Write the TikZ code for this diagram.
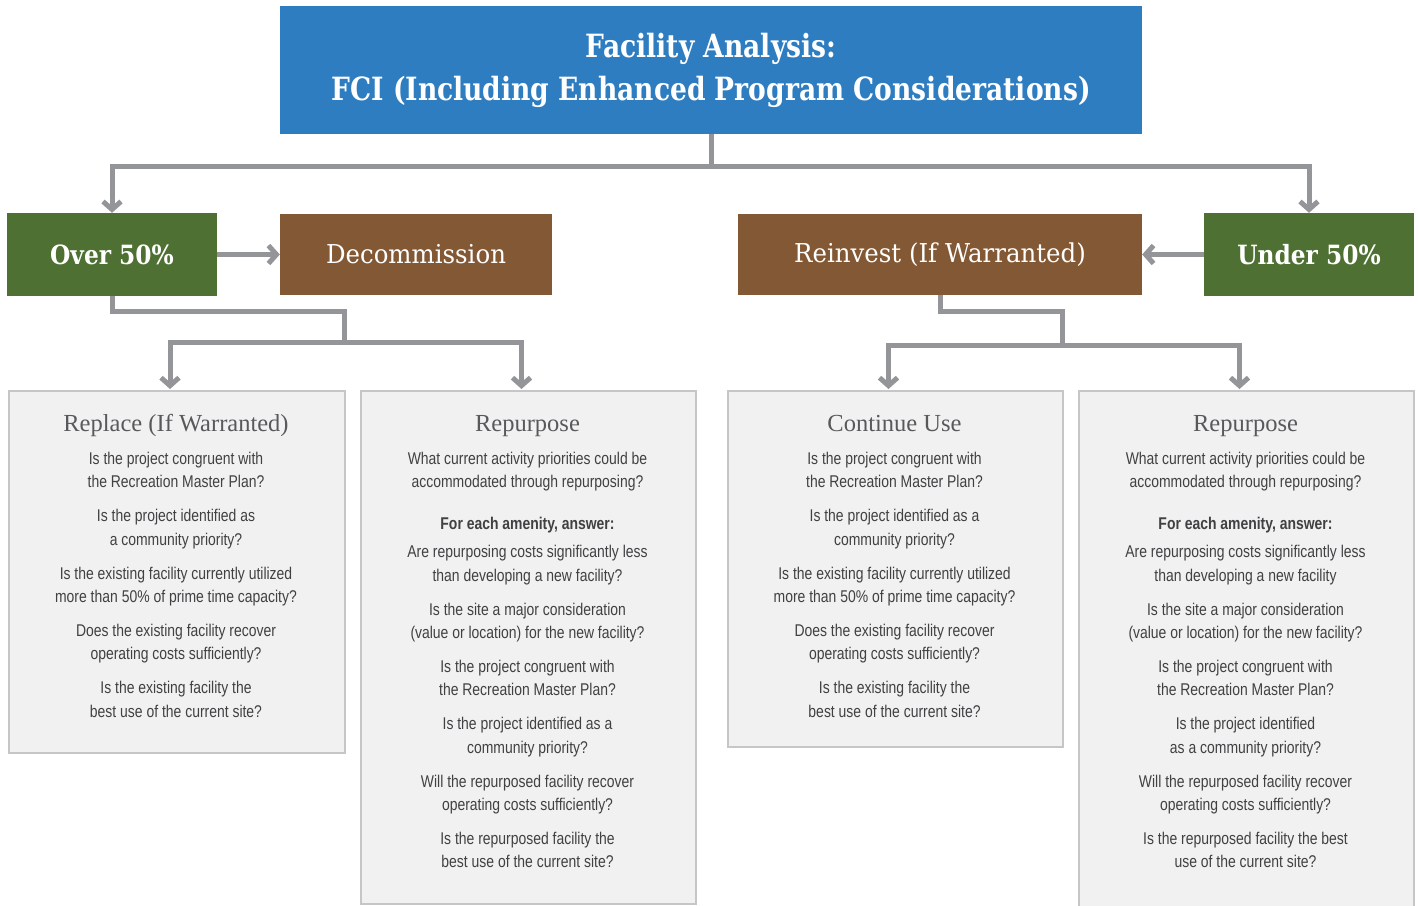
\documentclass[tikz,border=0pt]{standalone}
\usepackage{fontspec}
\setmainfont{Liberation Sans}
\newfontfamily\ttlfont{DejaVu Serif}[FakeStretch=0.83]
\newfontfamily\labfont{DejaVu Serif}[FakeStretch=0.88]
\newfontfamily\brfont{DejaVu Serif}[FakeStretch=0.94]
\newfontfamily\hdfont{Liberation Serif}
\newfontfamily\bodyfont{Liberation Sans}[FakeStretch=0.82]
\usetikzlibrary{arrows.meta,calc}
\definecolor{cblue}{HTML}{2F7DC1}
\definecolor{cgreen}{HTML}{4E7032}
\definecolor{cbrown}{HTML}{835834}
\definecolor{cline}{HTML}{939598}
\definecolor{cfill}{HTML}{F1F1F1}
\definecolor{cborder}{HTML}{C6C6C6}
\definecolor{ctext}{HTML}{414042}
\definecolor{chead}{HTML}{58595B}
\tikzset{
  titlebox/.style={fill=cblue, inner sep=0, minimum width=862, minimum height=128, text=white, align=center,
    font=\ttlfont\bfseries\fontsize{32}{43}\selectfont},
  greenbox/.style={fill=cgreen, inner sep=0, minimum width=210, minimum height=83, text=white,
    font=\labfont\bfseries\fontsize{26.5}{30}\selectfont},
  brownbox/.style={fill=cbrown, inner sep=0, minimum height=81, text=white,
    font=\brfont\fontsize{26}{30}\selectfont},
  qbox/.style={fill=cfill, draw=cborder, line width=2, inner sep=0, anchor=north west},
  qhead/.style={anchor=base, inner sep=0, text=chead, font=\hdfont\fontsize{24.5}{28}\selectfont},
  qtext/.style={anchor=north, inner sep=0, align=center, text=ctext,
    font=\bodyfont\fontsize{17}{23.3}\selectfont},
  conn/.style={draw=cline, line width=5},
  arr/.style={-{Straight Barb[length=8, width=18, line width=5]}}
}
\begin{document}
\begin{tikzpicture}[x=1pt, y=-1pt]
\clip (0,0) rectangle (1418,905);
\fill[white] (0,0) rectangle (1418,905);

% top and second row
\node[titlebox] (title) at (711,70) {Facility Analysis:\\FCI (Including Enhanced Program Considerations)};
\node[greenbox] (over) at (112,254.5) {Over 50\%};
\node[brownbox, minimum width=272] (decom) at (416,254.5) {Decommission};
\node[brownbox, minimum width=404] (reinv) at (940,254.5) {Reinvest (If Warranted)};
\node[greenbox] (under) at (1309,254.5) {Under 50\%};

% question boxes
\node[qbox, minimum width=336, minimum height=362] (b1) at (8,390) {};
\node[qbox, minimum width=335, minimum height=513] (b2) at (360,390) {};
\node[qbox, minimum width=335, minimum height=356] (b3) at (727,390) {};
\node[qbox, minimum width=335, minimum height=530] (b4) at (1078,390) {};

\node[qhead] (b1h) at (176,431) {Replace (If Warranted)};
\node[qhead] (b2h) at (527.5,431) {Repurpose};
\node[qhead] (b3h) at (894.5,431) {Continue Use};
\node[qhead] (b4h) at (1245.5,431) {Repurpose};

\node[qtext] (b1q) at (176,452) {Is the project congruent with\\the Recreation Master Plan?\\[10.7pt]Is the project identified as\\a community priority?\\[10.7pt]Is the existing facility currently utilized\\more than 50\% of prime time capacity?\\[10.7pt]Does the existing facility recover\\operating costs sufficiently?\\[10.7pt]Is the existing facility the\\best use of the current site?};

\node[qtext] (b2q) at (527.5,452) {What current activity priorities could be\\accommodated through repurposing?\\[18.7pt]{\bfseries For each amenity, answer:}\\[4.7pt]Are repurposing costs significantly less\\than developing a new facility?\\[10.7pt]Is the site a major consideration\\(value or location) for the new facility?\\[10.7pt]Is the project congruent with\\the Recreation Master Plan?\\[10.7pt]Is the project identified as a\\community priority?\\[10.7pt]Will the repurposed facility recover\\operating costs sufficiently?\\[10.7pt]Is the repurposed facility the\\best use of the current site?};

\node[qtext] (b3q) at (894.5,452) {Is the project congruent with\\the Recreation Master Plan?\\[10.7pt]Is the project identified as a\\community priority?\\[10.7pt]Is the existing facility currently utilized\\more than 50\% of prime time capacity?\\[10.7pt]Does the existing facility recover\\operating costs sufficiently?\\[10.7pt]Is the existing facility the\\best use of the current site?};

\node[qtext] (b4q) at (1245.5,452) {What current activity priorities could be\\accommodated through repurposing?\\[18.7pt]{\bfseries For each amenity, answer:}\\[4.7pt]Are repurposing costs significantly less\\than developing a new facility\\[10.7pt]Is the site a major consideration\\(value or location) for the new facility?\\[10.7pt]Is the project congruent with\\the Recreation Master Plan?\\[10.7pt]Is the project identified\\as a community priority?\\[10.7pt]Will the repurposed facility recover\\operating costs sufficiently?\\[10.7pt]Is the repurposed facility the best\\use of the current site?};

% connector points
\coordinate (tj) at (711,166);
\coordinate (k1) at (344,311);
\coordinate (j1) at (344,342);
\coordinate (k2) at (1062,311);
\coordinate (j2) at (1062,345);
\coordinate (b1in) at ($(b1.north)+(-7,-1)$);
\coordinate (b2in) at ($(b2.north)+(-7,-1)$);
\coordinate (b3in) at ($(b3.north)+(-7,-1)$);
\coordinate (b4in) at ($(b4.north)+(-7,-1)$);

% connectors
\draw[conn] (title.south) -- (tj);
\draw[conn, arr] (tj) -| (over.north);
\draw[conn, arr] (tj) -| (under.north);
\draw[conn, arr] (over.east) -- (decom.west);
\draw[conn, arr] (under.west) -- (reinv.east);
\draw[conn] (over.south) |- (k1) -- (j1);
\draw[conn, arr] (j1) -| (b1in);
\draw[conn, arr] (j1) -| (b2in);
\draw[conn] (reinv.south) |- (k2) -- (j2);
\draw[conn, arr] (j2) -| (b3in);
\draw[conn, arr] (j2) -| (b4in);
\end{tikzpicture}
\end{document}
